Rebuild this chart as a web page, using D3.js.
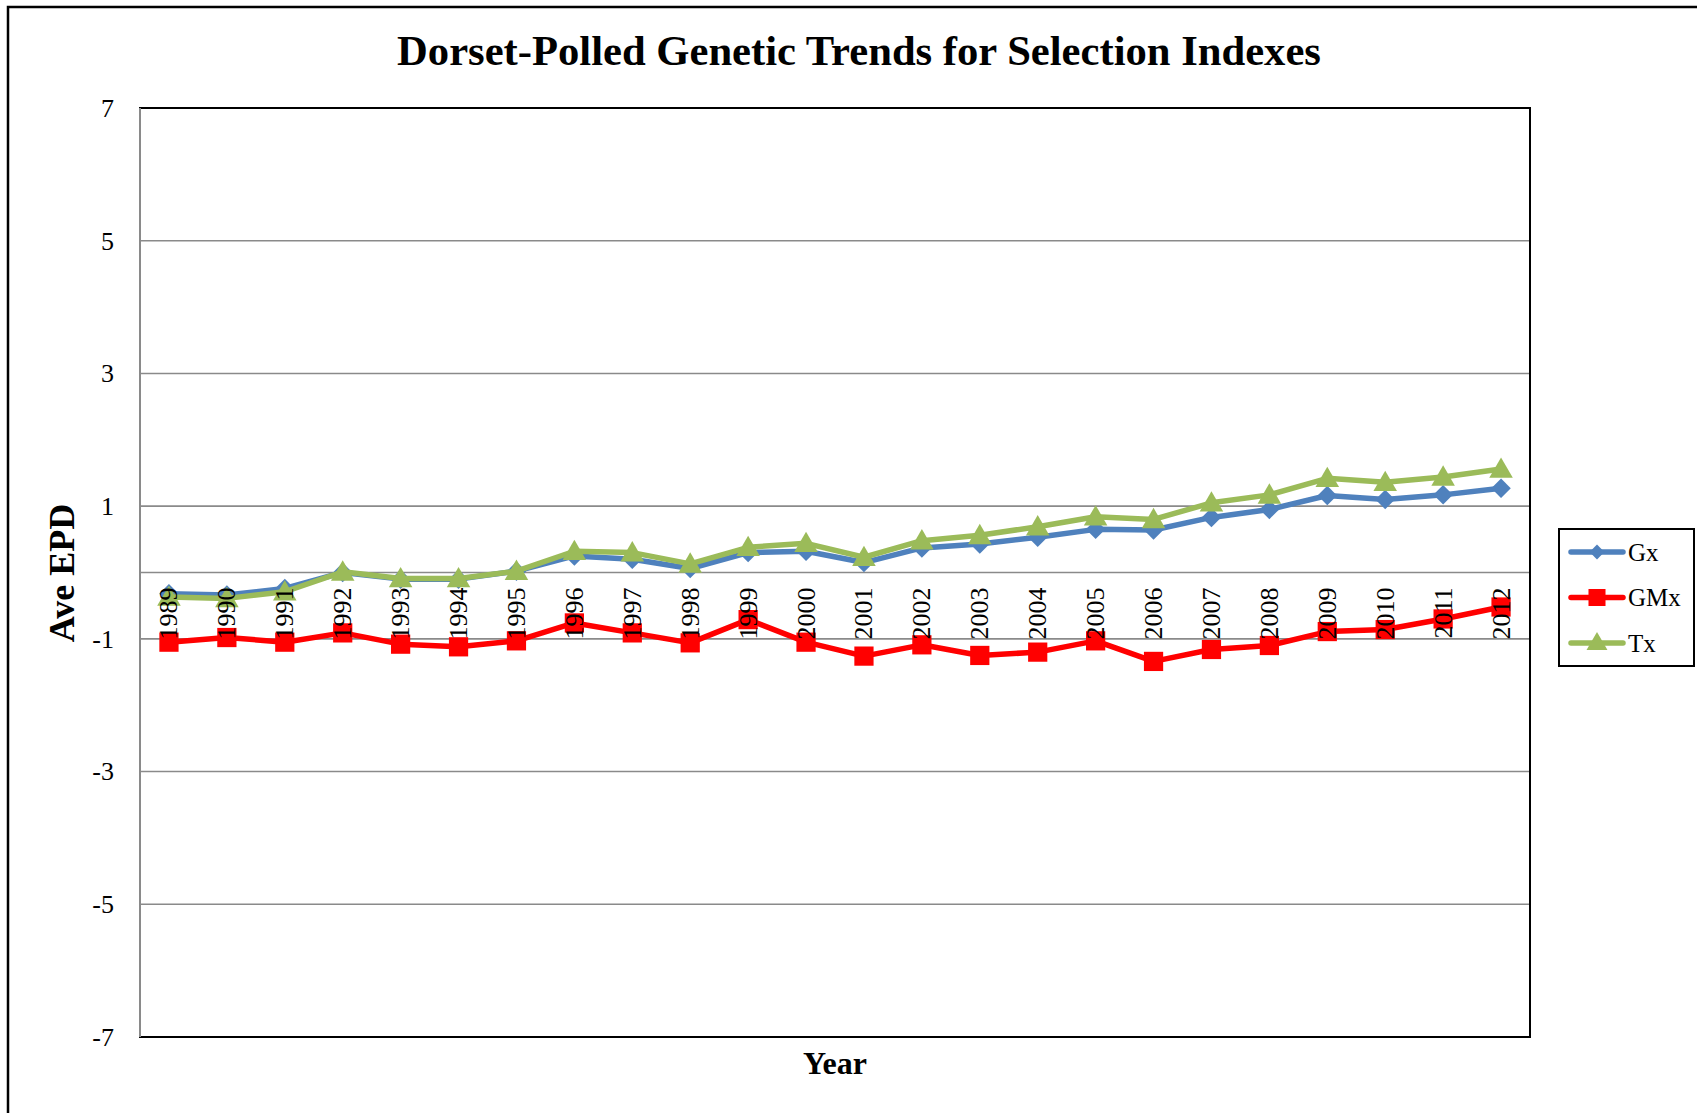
<!DOCTYPE html>
<html>
<head>
<meta charset="utf-8">
<script src="https://cdn.jsdelivr.net/npm/d3@7"></script>
<style>
  html, body { margin: 0; padding: 0; background: #fff; }
  svg { display: block; }
  text { font-family: "Liberation Serif", "DejaVu Serif", serif; fill: #000; }
</style>
</head>
<body>
<svg id="chart" width="1697" height="1113"></svg>
<script>
// Selection index genetic trends, Dorset-Polled, by birth year
const years = ["1989","1990","1991","1992","1993","1994","1995","1996","1997","1998","1999","2000",
               "2001","2002","2003","2004","2005","2006","2007","2008","2009","2010","2011","2012"];
const gx  = [-0.32,-0.34,-0.24, 0.00,-0.10,-0.10, 0.02, 0.25, 0.20, 0.06, 0.30, 0.32,
              0.15, 0.37, 0.43, 0.53, 0.65, 0.64, 0.83, 0.95, 1.16, 1.10, 1.17, 1.27];
const gmx = [-1.05,-0.98,-1.05,-0.91,-1.08,-1.12,-1.03,-0.76,-0.91,-1.06,-0.71,-1.05,
             -1.26,-1.09,-1.25,-1.20,-1.03,-1.34,-1.16,-1.10,-0.89,-0.86,-0.70,-0.52];
const tx  = [-0.37,-0.39,-0.29, 0.01,-0.09,-0.09, 0.02, 0.32, 0.30, 0.13, 0.38, 0.44,
              0.23, 0.48, 0.56, 0.69, 0.84, 0.80, 1.05, 1.17, 1.42, 1.36, 1.44, 1.56];
const yTicks = [7, 5, 3, 1, -1, -3, -5, -7];
const seriesNames = ["Gx", "GMx", "Tx"];

const chartTitle = "Dorset-Polled Genetic Trends for Selection Indexes";
const yTitle = "Ave EPD";
const xTitle = "Year";

const series = [
  { name: seriesNames[0], values: gx,  color: "#4F81BD", symbol: "diamond" },
  { name: seriesNames[1], values: gmx, color: "#FF0000", symbol: "square" },
  { name: seriesNames[2], values: tx,  color: "#9BBB59", symbol: "triangle" }
];

const W = 1697, H = 1113;
const plot = { left: 140, right: 1530, top: 108, bottom: 1037 };

const svg = d3.select("#chart");

// outer chart frame (runs off the right and bottom edges)
svg.append("rect")
  .attr("x", 8).attr("y", 7)
  .attr("width", W).attr("height", H)
  .attr("fill", "#fff").attr("stroke", "#000").attr("stroke-width", 2.5);

const x = d3.scaleBand().domain(years).range([plot.left, plot.right]);
const y = d3.scaleLinear().domain([-7, 7]).range([plot.bottom, plot.top]);

// horizontal gridlines
svg.append("g").selectAll("line")
  .data(yTicks)
  .join("line")
  .attr("x1", plot.left).attr("x2", plot.right)
  .attr("y1", d => y(d)).attr("y2", d => y(d))
  .attr("stroke", "#8a8a8a").attr("stroke-width", 1.6);

// category axis crossing at zero
svg.append("line")
  .attr("x1", plot.left).attr("x2", plot.right)
  .attr("y1", y(0)).attr("y2", y(0))
  .attr("stroke", "#8a8a8a").attr("stroke-width", 1.6);

// plot frame
svg.append("rect")
  .attr("x", plot.left).attr("y", plot.top)
  .attr("width", plot.right - plot.left).attr("height", plot.bottom - plot.top)
  .attr("fill", "none").attr("stroke", "#000").attr("stroke-width", 2);

// value axis line
svg.append("line")
  .attr("x1", plot.left).attr("x2", plot.left)
  .attr("y1", plot.top).attr("y2", plot.bottom)
  .attr("stroke", "#8a8a8a").attr("stroke-width", 2);

// value axis tick labels
const yAxis = d3.axisLeft(y).tickValues(yTicks).tickSize(0).tickPadding(26)
  .tickFormat(d => d < 0 ? "-" + Math.abs(d) : String(d));
const yg = svg.append("g").attr("transform", `translate(${plot.left},0)`).call(yAxis);
yg.select(".domain").remove();
yg.selectAll("text")
  .style("font-family", '"Liberation Serif", serif')
  .style("font-size", "26px")
  .attr("fill", "#000");

// diamonds are squares turned 45 degrees
const symbolType = {
  diamond: d3.symbolSquare,
  square: d3.symbolSquare,
  triangle: d3.symbolTriangle
};
const symbolRotate = { diamond: 45, square: 0, triangle: 0 };
const symbolShift = { diamond: 0, square: 0, triangle: 2 };
const symbolSize = { diamond: 190, square: 370, triangle: 240 };

const line = d3.line()
  .x((d, i) => x(years[i]) + x.bandwidth() / 2)
  .y(d => y(d));

series.forEach(s => {
  const g = svg.append("g");
  g.append("path")
    .datum(s.values)
    .attr("d", line)
    .attr("fill", "none")
    .attr("stroke", s.color)
    .attr("stroke-width", 5.5)
    .attr("stroke-linejoin", "round")
    .attr("stroke-linecap", "round");
  g.selectAll("path.marker")
    .data(s.values)
    .join("path")
    .attr("class", "marker")
    .attr("transform", (d, i) =>
      `translate(${x(years[i]) + x.bandwidth() / 2},${y(d) + symbolShift[s.symbol]}) rotate(${symbolRotate[s.symbol]})`)
    .attr("d", d3.symbol().type(symbolType[s.symbol]).size(symbolSize[s.symbol]))
    .attr("fill", s.color);
});

// category labels, rotated, just below the zero line
svg.append("g").selectAll("text")
  .data(years)
  .join("text")
  .attr("transform", d => `translate(${x(d) + x.bandwidth() / 2},${y(0) + 15}) rotate(-90)`)
  .attr("text-anchor", "end")
  .attr("dominant-baseline", "central")
  .style("font-size", "26px")
  .text(d => d);

// chart title, fitted to its measured width
const title = svg.append("text")
  .attr("x", 859).attr("y", 65)
  .attr("text-anchor", "middle")
  .style("font-weight", "bold")
  .style("font-size", "40px")
  .text(chartTitle);
const tLen = title.node().getComputedTextLength();
title.style("font-size", (40 * 924 / tLen).toFixed(2) + "px");

// axis titles
svg.append("text")
  .attr("transform", `translate(74,573) rotate(-90)`)
  .attr("text-anchor", "middle")
  .style("font-weight", "bold")
  .style("font-size", "36px")
  .text(yTitle);

svg.append("text")
  .attr("x", (plot.left + plot.right) / 2).attr("y", 1074)
  .attr("text-anchor", "middle")
  .style("font-weight", "bold")
  .style("font-size", "32px")
  .text(xTitle);

// legend
const legend = svg.append("g");
legend.append("rect")
  .attr("x", 1559).attr("y", 529)
  .attr("width", 135).attr("height", 137)
  .attr("fill", "#fff").attr("stroke", "#000").attr("stroke-width", 2);

const legendY = d3.scalePoint().domain(seriesNames).range([552, 643]);
const legendSize = { diamond: 110, square: 290, triangle: 190 };
series.forEach(s => {
  const ly = legendY(s.name);
  legend.append("line")
    .attr("x1", 1571).attr("x2", 1623)
    .attr("y1", ly).attr("y2", ly)
    .attr("stroke", s.color).attr("stroke-width", 5.5)
    .attr("stroke-linecap", "round");
  legend.append("path")
    .attr("transform", `translate(1597,${ly + (s.symbol === "triangle" ? 1 : 0)}) rotate(${symbolRotate[s.symbol]})`)
    .attr("d", d3.symbol().type(symbolType[s.symbol]).size(legendSize[s.symbol]))
    .attr("fill", s.color);
  legend.append("text")
    .attr("x", 1628).attr("y", ly)
    .attr("dominant-baseline", "central")
    .style("font-size", "25px")
    .text(s.name);
});
</script>
</body>
</html>
